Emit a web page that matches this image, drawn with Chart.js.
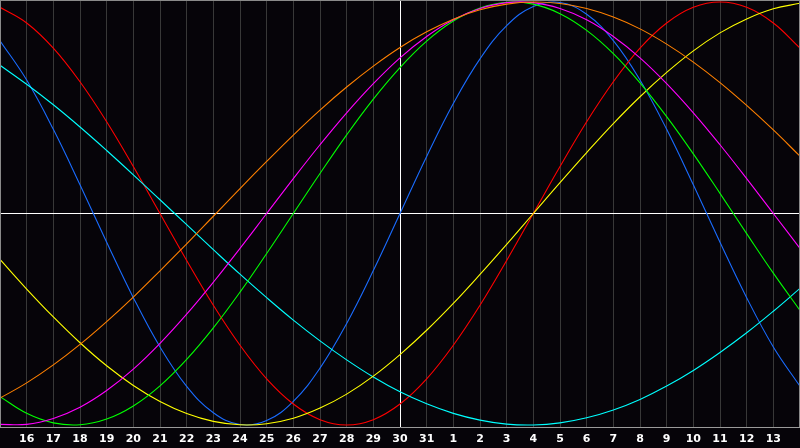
<!DOCTYPE html>
<html>
<head>
<meta charset="utf-8">
<script src="https://cdn.jsdelivr.net/npm/chart.js@4/dist/chart.umd.min.js"></script>
<style>
html,body{margin:0;padding:0;background:#060409;overflow:hidden;}
#wrap{width:800px;height:448px;position:relative;}
</style>
</head>
<body>
<div id="wrap"><canvas id="c" width="800" height="448"></canvas></div>
<script>
// Day labels along the bottom (first and last are at the chart edges, unlabeled)
const dayLabels = [15,16,17,18,19,20,21,22,23,24,25,26,27,28,29,30,31,1,2,3,4,5,6,7,8,9,10,11,12,13,14];
const todayIndex = 15;

// Series values (range -1 .. 1), one per day
const seriesBlue = [0.817,0.631,0.398,0.136,-0.136,-0.398,-0.631,-0.817,-0.942,-0.998,-0.979,-0.888,-0.731,-0.520,-0.270,0,0.270,0.520,0.731,0.888,0.979,0.998,0.942,0.817,0.631,0.398,0.136,-0.136,-0.398,-0.631,-0.817];
const seriesRed = [0.975,0.901,0.782,0.623,0.434,0.222,0,-0.222,-0.434,-0.623,-0.782,-0.901,-0.975,-1,-0.975,-0.901,-0.782,-0.623,-0.434,-0.222,0,0.222,0.434,0.623,0.782,0.901,0.975,1,0.975,0.901,0.782];
const seriesYellow = [-0.217,-0.357,-0.489,-0.611,-0.720,-0.813,-0.889,-0.946,-0.983,-0.999,-0.994,-0.968,-0.920,-0.854,-0.769,-0.667,-0.552,-0.425,-0.288,-0.146,0,0.146,0.288,0.425,0.552,0.667,0.769,0.854,0.920,0.968,0.994];
const seriesCyan = [0.701,0.611,0.514,0.409,0.298,0.183,0.065,-0.053,-0.171,-0.287,-0.398,-0.504,-0.602,-0.692,-0.773,-0.843,-0.900,-0.945,-0.977,-0.996,-1.000,-0.990,-0.966,-0.929,-0.879,-0.816,-0.742,-0.657,-0.564,-0.462,-0.354];
const seriesOrange = [-0.873,-0.801,-0.716,-0.619,-0.511,-0.395,-0.271,-0.144,-0.013,0.118,0.246,0.371,0.489,0.598,0.697,0.785,0.859,0.919,0.963,0.990,1.000,0.993,0.969,0.929,0.873,0.801,0.716,0.619,0.511,0.395,0.271];
const seriesMagenta = [-0.997,-0.997,-0.969,-0.916,-0.837,-0.736,-0.614,-0.476,-0.325,-0.165,0,0.165,0.325,0.476,0.614,0.736,0.837,0.916,0.969,0.997,0.997,0.969,0.916,0.837,0.736,0.614,0.476,0.325,0.165,0,-0.165];
const seriesGreen = [-0.866,-0.945,-0.990,-0.999,-0.972,-0.910,-0.815,-0.690,-0.541,-0.372,-0.189,0,0.189,0.372,0.541,0.690,0.815,0.910,0.972,0.999,0.990,0.945,0.866,0.756,0.618,0.458,0.282,0.095,-0.095,-0.282,-0.458];

const BG = '#060409';
const GRID = '#383838';
const EDGE = '#8a8a8a';

const mk = (data, color) => ({
  data, borderColor: color, borderWidth: 1.1, pointRadius: 0, tension: 0.4, fill: false
});

const bgPlugin = {
  id: 'bg',
  beforeDraw(chart) {
    const c = chart.ctx;
    c.save(); c.fillStyle = BG; c.fillRect(0, 0, chart.width, chart.height); c.restore();
  },
  afterDraw(chart) {
    const c = chart.ctx, a = chart.chartArea;
    c.save();
    c.strokeStyle = EDGE; c.lineWidth = 1;
    c.beginPath();
    c.moveTo(0, 0.5); c.lineTo(chart.width, 0.5);
    c.moveTo(0.5, 0); c.lineTo(0.5, a.bottom);
    c.moveTo(chart.width - 0.5, 0); c.lineTo(chart.width - 0.5, a.bottom);
    c.stroke();
    c.restore();
  }
};

new Chart(document.getElementById('c'), {
  type: 'line',
  data: {
    labels: dayLabels,
    datasets: [
      mk(seriesOrange, '#ff8000'),
      mk(seriesMagenta, '#ff00ff'),
      mk(seriesGreen, '#00ff00'),
      mk(seriesYellow, '#ffff00'),
      mk(seriesCyan, '#00ffff'),
      mk(seriesRed, '#ff0000'),
      mk(seriesBlue, '#1a6cff')
    ]
  },
  options: {
    responsive: false,
    animation: false,
    devicePixelRatio: 1,
    layout: { padding: 0, autoPadding: false },
    plugins: { legend: { display: false }, tooltip: { enabled: false } },
    scales: {
      x: {
        type: 'category',
        offset: false,
        grid: {
          drawTicks: false,
          lineWidth: 1,
          color: (ctx) => ctx.index === todayIndex ? '#ffffff' : GRID
        },
        border: { display: true, color: '#9a9a9a', width: 1 },
        ticks: {
          autoSkip: false, maxRotation: 0, minRotation: 0, padding: 6,
          color: '#ffffff',
          font: { family: 'DejaVu Sans', size: 11, weight: 'bold' },
          callback: function(v, i) { return (i === 0 || i === dayLabels.length - 1) ? '' : String(dayLabels[i]); }
        },
        afterFit: (s) => { s.height = 21; s.paddingLeft = 0; s.paddingRight = 0; }
      },
      y: {
        min: -1.0095, max: 1.0095,
        grid: { drawTicks: false, color: '#ffffff', lineWidth: 1 },
        border: { display: false },
        ticks: { display: false },
        afterBuildTicks: (s) => { s.ticks = [{ value: 0 }]; },
        afterFit: (s) => { s.width = 0; s.paddingTop = 0; s.paddingBottom = 0; }
      }
    }
  },
  plugins: [bgPlugin]
});
</script>
</body>
</html>
